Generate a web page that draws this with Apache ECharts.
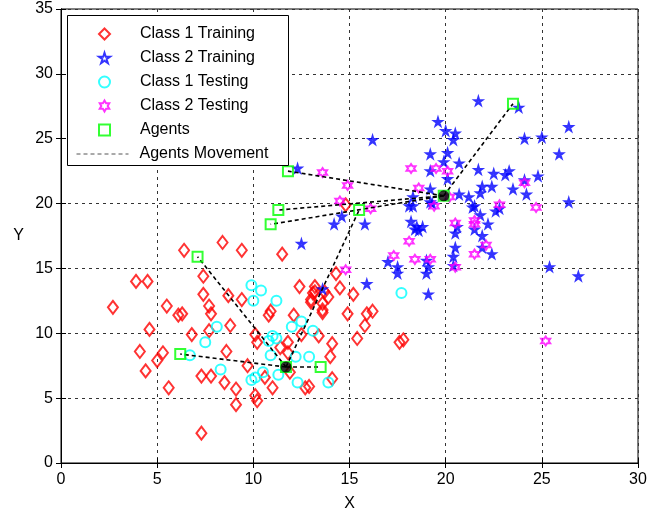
<!DOCTYPE html>
<html>
<head>
<meta charset="utf-8">
<script src="https://cdn.jsdelivr.net/npm/echarts@6/dist/echarts.min.js"></script>
<style>
  html, body { margin: 0; padding: 0; background: #fff; }
  #chart { width: 660px; height: 517px; }
</style>
</head>
<body>
<div id="chart"></div>
<script>
// values, [x, y]
const class1Train = [
  [6.4,16.4],[8.4,17.0],[9.4,16.4],[11.5,16.1],[3.9,14.0],[4.5,14.0],[7.4,14.4],[7.4,13.0],
  [8.7,12.9],[9.4,12.6],[12.4,13.6],[13.2,13.6],[13.1,13.1],[13.0,12.4],[14.3,14.6],[14.5,13.5],
  [15.2,13.0],[2.7,12.0],[5.5,12.1],[7.7,12.1],[7.8,11.5],[6.1,11.4],[6.3,11.5],[10.8,11.4],
  [10.9,11.7],[12.1,11.4],[13.6,12.3],[13.6,11.8],[13.6,11.6],[14.9,11.5],[15.9,11.5],[16.2,11.7],
  [4.6,10.3],[8.8,10.6],[6.8,9.9],[7.7,10.2],[10.1,9.9],[10.2,9.3],[11.8,9.3],[12.5,9.9],
  [13.4,9.8],[14.1,9.2],[15.4,9.6],[15.8,10.6],[4.1,8.6],[5.3,8.5],[5.0,7.9],[8.6,8.6],
  [11.4,8.9],[11.8,8.5],[14.0,8.2],[4.4,7.1],[7.3,6.7],[7.8,6.7],[8.5,6.2],[9.1,5.7],
  [9.7,7.5],[10.6,6.6],[11.9,7.0],[14.1,6.5],[5.6,5.8],[10.1,5.2],[10.2,4.8],[11.0,5.8],
  [12.7,5.8],[12.9,5.9],[9.1,4.5],[7.3,2.3],[14.8,19.9],[17.6,9.3],[17.8,9.5],[13.2,13.2],
  [13.0,12.6],[13.7,13.2],[13.9,12.8]
];
const class2Train = [
  [21.7,27.9],[23.8,27.4],[19.6,26.3],[20.0,25.6],[20.5,25.4],[20.4,24.9],[16.2,24.9],[24.1,25.0],
  [25.0,25.1],[26.4,25.9],[25.9,23.8],[19.2,23.8],[20.1,23.9],[19.9,23.2],[20.7,23.1],[19.2,22.5],
  [20.1,21.9],[21.7,22.6],[22.5,22.3],[23.1,22.2],[23.3,22.5],[24.8,22.1],[24.1,21.8],[21.9,21.3],
  [21.8,20.8],[22.4,21.3],[23.5,21.1],[24.2,20.7],[26.4,20.1],[19.2,21.1],[18.3,20.5],[18.1,19.8],
  [18.3,19.8],[19.2,20.1],[19.3,20.0],[20.7,20.7],[21.2,20.5],[21.5,19.8],[21.4,19.7],[22.6,19.4],
  [22.8,19.6],[21.8,19.1],[22.2,18.4],[18.2,18.6],[18.5,18.2],[18.6,17.9],[18.8,18.2],[18.4,18.0],
  [20.6,18.2],[20.5,17.7],[21.5,18.0],[21.9,17.5],[20.5,16.6],[20.4,15.9],[21.9,16.6],[22.4,16.1],
  [19.0,15.6],[19.1,15.1],[19.0,14.6],[17.0,15.5],[17.5,15.1],[17.5,14.6],[20.4,15.2],[25.4,15.1],
  [26.9,14.4],[19.1,13.0],[15.9,13.8],[13.6,13.4],[12.5,16.9],[14.2,18.4],[14.6,19.0],[15.8,18.4],
  [12.3,22.7]
];
const class1Test = [
  [9.9,13.7],[10.4,13.3],[10.0,12.5],[11.2,12.5],[12.0,10.5],[12.5,10.9],[13.1,10.2],[11.0,9.8],
  [11.2,9.6],[10.8,9.4],[10.9,8.3],[12.2,8.2],[12.9,8.2],[10.5,7.0],[9.9,6.4],[10.1,6.6],
  [11.3,6.8],[12.3,6.2],[13.9,6.2],[8.1,10.5],[7.5,9.3],[6.7,8.3],[8.3,7.2],[17.7,13.1]
];
const class2Test = [
  [13.6,22.4],[14.9,21.4],[14.5,20.2],[16.1,19.6],[18.2,22.7],[19.5,22.7],[20.1,22.5],[18.6,21.2],
  [19.4,19.8],[20.2,20.5],[24.1,21.6],[22.8,19.9],[24.7,19.7],[20.5,18.5],[21.5,18.7],[21.5,18.4],
  [18.1,17.1],[17.3,16.0],[18.4,15.7],[19.2,15.7],[21.5,16.1],[22.1,16.8],[20.5,15.1],[14.8,14.9],
  [25.2,9.4]
];
const agents = [
  [11.8,22.5],[11.3,19.5],[10.9,18.4],[7.1,15.9],[6.2,8.4],[13.5,7.4],[15.5,19.5],[23.5,27.7],
  [11.7,7.4],[19.9,20.6]
];
const centers = [[11.7,7.4],[19.9,20.6]];
// [center index, agent index]
const movement = [[0,3],[0,4],[0,5],[0,6],[1,0],[1,1],[1,2],[1,7]];
const xTicks = [0, 5, 10, 15, 20, 25, 30];
const yTicks = [0, 5, 10, 15, 20, 25, 30, 35];
const markerNames = ['Class 1 Training', 'Class 2 Training', 'Class 1 Testing', 'Class 2 Testing', 'Agents'];

const font = "'Liberation Sans', Arial, sans-serif";
const star5 = 'path://M50 0 L61.2 34.55 L97.55 34.55 L68.2 55.9 L79.4 90.45 L50 69.1 L20.6 90.45 L31.8 55.9 L2.45 34.55 L38.8 34.55 Z';
const star6 = 'path://M50 0 L64.4 25 L93.3 25 L78.9 50 L93.3 75 L64.4 75 L50 100 L35.6 75 L6.7 75 L21.1 50 L6.7 25 L35.6 25 Z';

function hollow(color, w) {
  return { color: 'rgba(255,255,255,0)', borderColor: color, borderWidth: w };
}

const chart = echarts.init(document.getElementById('chart'));

const moveSeries = movement.map(function (m) {
  return {
    name: 'Agents Movement',
    type: 'line',
    data: [centers[m[0]], agents[m[1]]],
    symbol: 'none',
    silent: true,
    z: 4,
    lineStyle: { color: '#000', width: 1.6, type: [4, 3] }
  };
});

const dashedGrid = { show: true, lineStyle: { color: '#333', width: 1, type: [3, 4] } };
const legendText = { fontFamily: font, fontSize: 16, color: '#000' };

chart.setOption({
  animation: false,
  backgroundColor: '#fff',
  textStyle: { fontFamily: font },
  grid: { left: 61, right: 22, top: 9, bottom: 53, show: true, borderColor: '#000', borderWidth: 1 },
  graphic: [{
    type: 'rect', z: 50, silent: true,
    shape: { x: 67.5, y: 15.5, width: 221, height: 150 },
    style: { fill: '#fff', stroke: '#000', lineWidth: 1 }
  }],
  legend: [{
    orient: 'vertical', left: 98, top: 26, padding: 0, z: 60,
    itemGap: 8, itemWidth: 11, itemHeight: 11, selectedMode: false,
    textStyle: Object.assign({ padding: [0, 0, 0, 25] }, legendText),
    data: markerNames
  }, {
    orient: 'vertical', left: 76, top: 146, padding: 0, z: 60,
    itemWidth: 52, itemHeight: 12, selectedMode: false,
    textStyle: Object.assign({ padding: [0, 0, 0, 6] }, legendText),
    data: [{ name: 'Agents Movement', itemStyle: { opacity: 0 }, lineStyle: { width: 1, color: '#555' } }]
  }],
  xAxis: [{
    type: 'value', min: 0, max: 30, interval: 5,
    name: 'X', nameLocation: 'middle', nameGap: 33,
    nameTextStyle: { fontSize: 16, color: '#000', fontFamily: font },
    axisLine: { show: true, lineStyle: { color: '#000', width: 1 } },
    axisTick: { show: true, inside: true, length: 5, lineStyle: { color: '#000' } },
    axisLabel: { fontSize: 16, color: '#000', margin: 9, fontFamily: font,
      formatter: function (v) { return xTicks.indexOf(v) >= 0 ? String(v) : ''; } },
    splitLine: dashedGrid
  }, {
    type: 'value', min: 0, max: 30, interval: 5, position: 'top',
    axisLine: { show: true, lineStyle: { color: '#000' } },
    axisTick: { show: true, inside: true, length: 5, lineStyle: { color: '#000' } },
    axisLabel: { show: false }, splitLine: { show: false }
  }],
  yAxis: [{
    type: 'value', min: 0, max: 35, interval: 5,
    name: 'Y', nameLocation: 'middle', nameGap: 37, nameRotate: 0,
    nameTextStyle: { fontSize: 16, color: '#000', fontFamily: font },
    axisLine: { show: true, lineStyle: { color: '#000', width: 1 } },
    axisTick: { show: true, inside: true, length: 5, lineStyle: { color: '#000' } },
    axisLabel: { fontSize: 16, color: '#000', margin: 8, fontFamily: font,
      formatter: function (v) { return yTicks.indexOf(v) >= 0 ? String(v) : ''; } },
    splitLine: dashedGrid
  }, {
    type: 'value', min: 0, max: 35, interval: 5, position: 'right',
    axisLine: { show: true, lineStyle: { color: '#000' } },
    axisTick: { show: true, inside: true, length: 5, lineStyle: { color: '#000' } },
    axisLabel: { show: false }, splitLine: { show: false }
  }],
  series: [
    { name: 'Class 1 Training', type: 'scatter', data: class1Train, symbol: 'diamond',
      symbolSize: [10, 13], itemStyle: hollow('#ff0000', 2), z: 2 },
    { name: 'Class 2 Training', type: 'scatter', data: class2Train, symbol: star5,
      symbolSize: 7, itemStyle: hollow('#0000ff', 2.2), z: 2 },
    { name: 'Class 1 Testing', type: 'scatter', data: class1Test, symbol: 'circle',
      symbolSize: 10, itemStyle: hollow('#00ffff', 2), z: 2 },
    { name: 'Class 2 Testing', type: 'scatter', data: class2Test, symbol: star6,
      symbolSize: 9, itemStyle: hollow('#ff00ff', 2), z: 3 },
    { name: 'Agents', type: 'scatter', data: agents, symbol: 'rect',
      symbolSize: 10, itemStyle: hollow('#00ff00', 2), z: 5 }
  ].concat(moveSeries).concat([
    { name: 'Centers', type: 'scatter', data: centers, symbol: 'circle',
      symbolSize: 11, itemStyle: { color: '#000' }, z: 6 }
  ])
});
</script>
</body>
</html>
